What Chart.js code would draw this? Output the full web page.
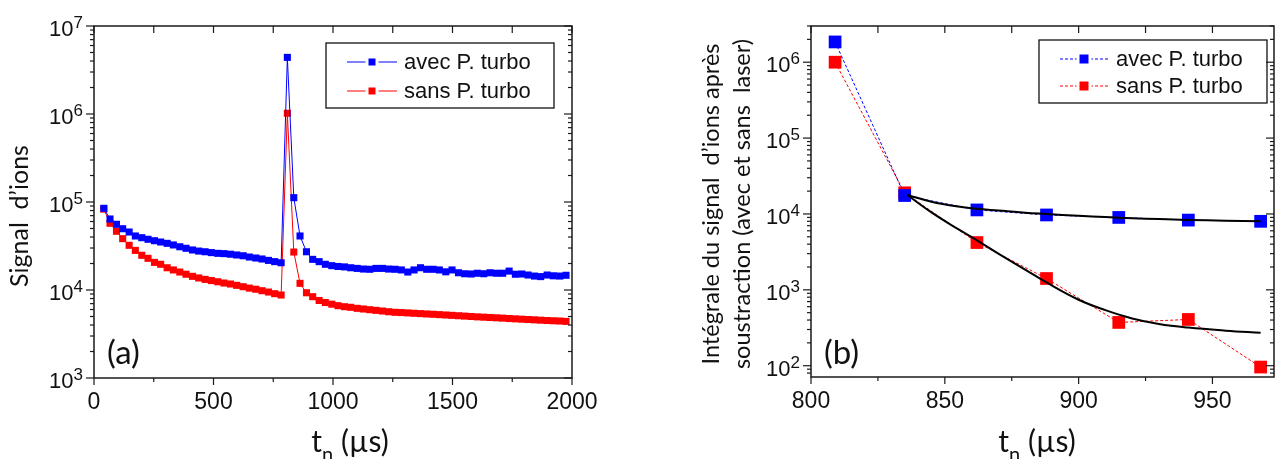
<!DOCTYPE html>
<html>
<head>
<meta charset="utf-8">
<script src="https://cdn.jsdelivr.net/npm/chart.js@4.4.1/dist/chart.umd.min.js"></script>
<style>
  html, body { margin: 0; padding: 0; background: #fff; }
  #wrap { position: relative; width: 1283px; height: 459px; overflow: hidden; }
  canvas { position: absolute; top: 0; }
  #chartA { left: 0; }
  #chartB { left: 640px; }
</style>
</head>
<body>
<div id="wrap">
  <canvas id="chartA" width="640" height="459"></canvas>
  <canvas id="chartB" width="643" height="459"></canvas>
</div>
<script>
// panel (a): ion signal vs t_n, with and without turbo pump
const timeA = [41, 67, 94, 120, 147, 173, 200, 226, 253, 279, 306, 332, 359, 385, 412, 438, 465, 491,
  518, 544, 571, 597, 624, 650, 677, 703, 730, 756, 783, 809, 836, 862, 889, 915, 942, 968, 995,
  1021, 1048, 1074, 1101, 1127, 1154, 1180, 1207, 1233, 1260, 1286, 1313, 1339, 1366, 1392, 1419,
  1445, 1472, 1498, 1525, 1551, 1578, 1604, 1631, 1657, 1684, 1710, 1737, 1763, 1790, 1816, 1843,
  1869, 1896, 1922, 1949, 1975]
const avecA = [84800, 64100, 55800, 49700, 45600, 41100, 39300, 37700, 36300, 35100, 33900, 32500,
  31000, 29800, 28500, 27700, 27200, 26600, 26100, 25900, 25500, 25000, 24500, 23700, 23100, 22500,
  21700, 21000, 20400, 4400000, 112000, 41100, 27200, 22300, 21000, 19600, 18900, 18500, 18300,
  17900, 17600, 17300, 17200, 17600, 17600, 17300, 17200, 16900, 16000, 16900, 17900, 17200, 17200,
  16900, 16100, 16900, 15700, 15300, 15200, 15500, 15300, 15700, 15500, 15500, 16400, 15100, 15200,
  14800, 14400, 14200, 14800, 14500, 14400, 14700]
const sansA = [83000, 57300, 46500, 38300, 32200, 28200, 24800, 22900, 20600, 19600, 17900, 16900,
  16000, 15100, 14300, 13700, 13200, 12800, 12400, 12000, 11700, 11300, 10900, 10500, 10200, 9820,
  9480, 9080, 8770, 1020000, 27000, 11900, 9300, 8400, 7600, 7200, 6900, 6630, 6460, 6360, 6190,
  6080, 5970, 5870, 5770, 5660, 5580, 5540, 5490, 5440, 5390, 5340, 5300, 5250, 5200, 5150, 5100,
  5050, 5000, 4950, 4910, 4870, 4830, 4790, 4740, 4700, 4660, 4620, 4580, 4540, 4500, 4470, 4440, 4400]

// panel (b): integrated signal after subtraction
const timeB = [809, 835, 862, 888, 915, 941, 968]
const avecB = [1850000, 17500, 11300, 9700, 9000, 8300, 8000]
const sansB = [1000000, 19000, 4200, 1410, 372, 407, 96]
const fitT = [836, 845, 855, 862, 870, 880, 888, 900, 910, 920, 930, 941, 955, 968]
const fitAvec = [17800, 14500, 12500, 11700, 11100, 10400, 10000, 9450, 9100, 8800, 8550, 8350, 8150, 8000]
const fitSans = [17800, 10500, 6300, 4500, 3000, 1850, 1250, 740, 540, 420, 355, 318, 290, 272]

const ticksA = [0, 500, 1000, 1500, 2000]
const minorA = [250, 750, 1250, 1750]
const ticksB = [800, 850, 900, 950]
const minorB = [825, 875, 925]
const expA = [3, 4, 5, 6, 7]
const expB = [2, 3, 4, 5, 6]
const seriesNames = ['avec P. turbo', 'sans P. turbo']

const BLUE = '#0000ff'
const RED = '#ff0000'
const NUM_FONT = '"Liberation Sans", Arial, sans-serif'
const TXT_FONT = 'Lato, "Open Sans", sans-serif'

// draws the frame, ticks, labels, titles and legend from the chart's scales
const frame = {
  id: 'frame',
  afterDatasetsDraw(chart, args, o) {
    const { ctx, chartArea: a, scales: { x, y } } = chart
    const seg = (x1, y1, x2, y2) => {
      ctx.beginPath(); ctx.moveTo(x1, y1); ctx.lineTo(x2, y2); ctx.stroke()
    }
    ctx.save()
    ctx.strokeStyle = '#1a1a1a'
    ctx.lineWidth = 1.5
    ctx.strokeRect(a.left, a.top, a.right - a.left, a.bottom - a.top)
    ctx.lineWidth = 1.2

    // x ticks
    ctx.fillStyle = '#111'
    ctx.font = '23px ' + NUM_FONT
    ctx.textAlign = 'center'
    ctx.textBaseline = 'alphabetic'
    o.xMajor.forEach((v) => {
      const px = x.getPixelForValue(v)
      seg(px, a.bottom, px, a.bottom + 7)
      seg(px, a.top, px, a.top + 7)
      ctx.fillText(String(v), px, a.bottom + 31)
    })
    o.xMinor.forEach((v) => {
      const px = x.getPixelForValue(v)
      seg(px, a.bottom, px, a.bottom + 4)
      seg(px, a.top, px, a.top + 7)
    })

    // y ticks (log)
    const lo = Math.floor(Math.log10(y.min))
    const hi = Math.ceil(Math.log10(y.max))
    for (let e = lo; e <= hi; e++) {
      for (let m = 2; m <= 9; m++) {
        const v = m * Math.pow(10, e)
        if (v < y.min || v > y.max) continue
        const py = y.getPixelForValue(v)
        seg(a.left - 4, py, a.left, py)
        seg(a.right - 4, py, a.right, py)
      }
    }
    o.yExp.forEach((e) => {
      const py = y.getPixelForValue(Math.pow(10, e))
      seg(a.left - 8, py, a.left, py)
      seg(a.right - 8, py, a.right, py)
      ctx.font = '17px ' + NUM_FONT
      const ew = ctx.measureText(String(e)).width
      ctx.textAlign = 'right'
      const xr = a.left - 11
      ctx.fillText(String(e), xr, py + 2)
      ctx.font = '22px ' + NUM_FONT
      ctx.fillText('10', xr - ew, py + 10)
    })

    // axis titles
    ctx.font = '30px ' + TXT_FONT
    ctx.textAlign = 'left'
    const t1 = ctx.measureText('t').width
    const t3 = ctx.measureText(' (µs)').width
    ctx.font = '20px ' + TXT_FONT
    const t2 = ctx.measureText('n').width
    let tx = o.xTitleX - (t1 + t2 + t3) / 2
    ctx.font = '30px ' + TXT_FONT
    ctx.fillText('t', tx, 452)
    ctx.font = '20px ' + TXT_FONT
    ctx.fillText('n', tx + t1, 461)
    ctx.font = '30px ' + TXT_FONT
    ctx.fillText(' (µs)', tx + t1 + t2, 452)

    ctx.font = o.yTitleSize + 'px ' + TXT_FONT
    ctx.textAlign = 'center'
    o.yTitle.forEach((line, i) => {
      ctx.save()
      ctx.translate(o.yTitleX[i], o.yTitleY)
      ctx.rotate(-Math.PI / 2)
      ctx.fillText(line, 0, 0)
      ctx.restore()
    })

    // panel tag
    ctx.font = '33px ' + TXT_FONT
    ctx.textAlign = 'left'
    ctx.fillText(o.tag, a.left + 13, 364)

    // legend
    const L = o.legend
    ctx.lineWidth = 1.3
    ctx.strokeStyle = '#111'
    ctx.strokeRect(L.x, L.y, L.w, L.h)
    ctx.font = '22px ' + NUM_FONT
    ctx.textBaseline = 'middle'
    seriesNames.forEach((name, i) => {
      const ry = L.y + L.row0 + i * L.dy
      ctx.strokeStyle = [BLUE, RED][i]
      ctx.fillStyle = [BLUE, RED][i]
      ctx.lineWidth = 1
      ctx.setLineDash(L.dash)
      seg(L.x + L.l1, ry, L.x + L.l2, ry)
      ctx.setLineDash([])
      const s = L.mark
      const mx = L.x + (L.l1 + L.l2) / 2
      ctx.fillStyle = '#fff'
      ctx.fillRect(mx - s / 2 - 3, ry - s / 2, s + 6, s)
      ctx.fillStyle = [BLUE, RED][i]
      ctx.fillRect(mx - s / 2, ry - s / 2, s, s)
      ctx.fillStyle = '#111'
      ctx.fillText(name, L.x + L.tx, ry + 1)
    })
    ctx.restore()
  },
}

const baseScales = (xr, yr, w, h) => ({
  x: {
    type: 'linear', min: xr[0], max: xr[1], bounds: 'data',
    grid: { display: false, drawTicks: false }, border: { display: false },
    ticks: { display: false },
    afterFit: (s) => { s.height = h },
  },
  y: {
    type: 'logarithmic', min: yr[0], max: yr[1], bounds: 'data',
    grid: { display: false, drawTicks: false }, border: { display: false },
    ticks: { display: false },
    afterFit: (s) => { s.width = w },
  },
})

const pts = (xs, ys) => xs.map((t, i) => ({ x: t, y: ys[i] }))

new Chart(document.getElementById('chartA'), {
  type: 'line',
  data: {
    datasets: [
      {
        label: seriesNames[0], data: pts(timeA, avecA), borderColor: BLUE, backgroundColor: BLUE,
        borderWidth: 1, pointStyle: 'rect', pointRadius: 5, pointBorderWidth: 0, tension: 0,
      },
      {
        label: seriesNames[1], data: pts(timeA, sansA), borderColor: RED, backgroundColor: RED,
        borderWidth: 1, pointStyle: 'rect', pointRadius: 5, pointBorderWidth: 0, tension: 0,
      },
    ],
  },
  options: {
    responsive: false, animation: false,
    layout: { padding: { left: 0, right: 68, top: 26, bottom: 0 } },
    scales: baseScales([0, 2000], [1e3, 1e7], 94, 81),
    plugins: {
      legend: { display: false }, tooltip: { enabled: false },
      frame: {
        xMajor: ticksA, xMinor: minorA, yExp: expA, tag: '(a)', xTitleX: 350,
        yTitle: ['Signal  d\u2019ions'], yTitleX: [28], yTitleY: 216, yTitleSize: 25,
        legend: { x: 326, y: 43, w: 228, h: 65, row0: 19, dy: 29, l1: 21, l2: 71, mark: 7, tx: 78, dash: [] },
      },
    },
  },
  plugins: [frame],
})

new Chart(document.getElementById('chartB'), {
  type: 'line',
  data: {
    datasets: [
      {
        label: 'fit avec', data: pts(fitT, fitAvec), borderColor: '#000', borderWidth: 2,
        pointRadius: 0, tension: 0.4, fill: false,
      },
      {
        label: 'fit sans', data: pts(fitT, fitSans), borderColor: '#000', borderWidth: 2,
        pointRadius: 0, tension: 0.4, fill: false,
      },
      {
        label: seriesNames[0], data: pts(timeB, avecB), borderColor: BLUE, backgroundColor: BLUE,
        borderWidth: 1, borderDash: [3, 2], pointStyle: 'rect', pointRadius: 9, pointBorderWidth: 0,
      },
      {
        label: seriesNames[1], data: pts(timeB, sansB), borderColor: RED, backgroundColor: RED,
        borderWidth: 1, borderDash: [3, 2], pointStyle: 'rect', pointRadius: 9, pointBorderWidth: 0,
      },
    ],
  },
  options: {
    responsive: false, animation: false,
    layout: { padding: { left: 0, right: 2, top: 26, bottom: 0 } },
    scales: baseScales([800, 973], [71, 3e6], 171, 82),
    plugins: {
      legend: { display: false }, tooltip: { enabled: false },
      frame: {
        xMajor: ticksB, xMinor: minorB, yExp: expB, tag: '(b)', xTitleX: 397,
        yTitle: ['Int\u00e9grale du signal  d\u2019ions apr\u00e8s', 'soustraction (avec et sans  laser)'],
        yTitleX: [79, 110], yTitleY: 204, yTitleSize: 23.5,
        legend: { x: 399, y: 40, w: 228, h: 63, row0: 19, dy: 27, l1: 21, l2: 69, mark: 9, tx: 77, dash: [3, 2] },
      },
    },
  },
  plugins: [frame],
})
</script>
</body>
</html>
